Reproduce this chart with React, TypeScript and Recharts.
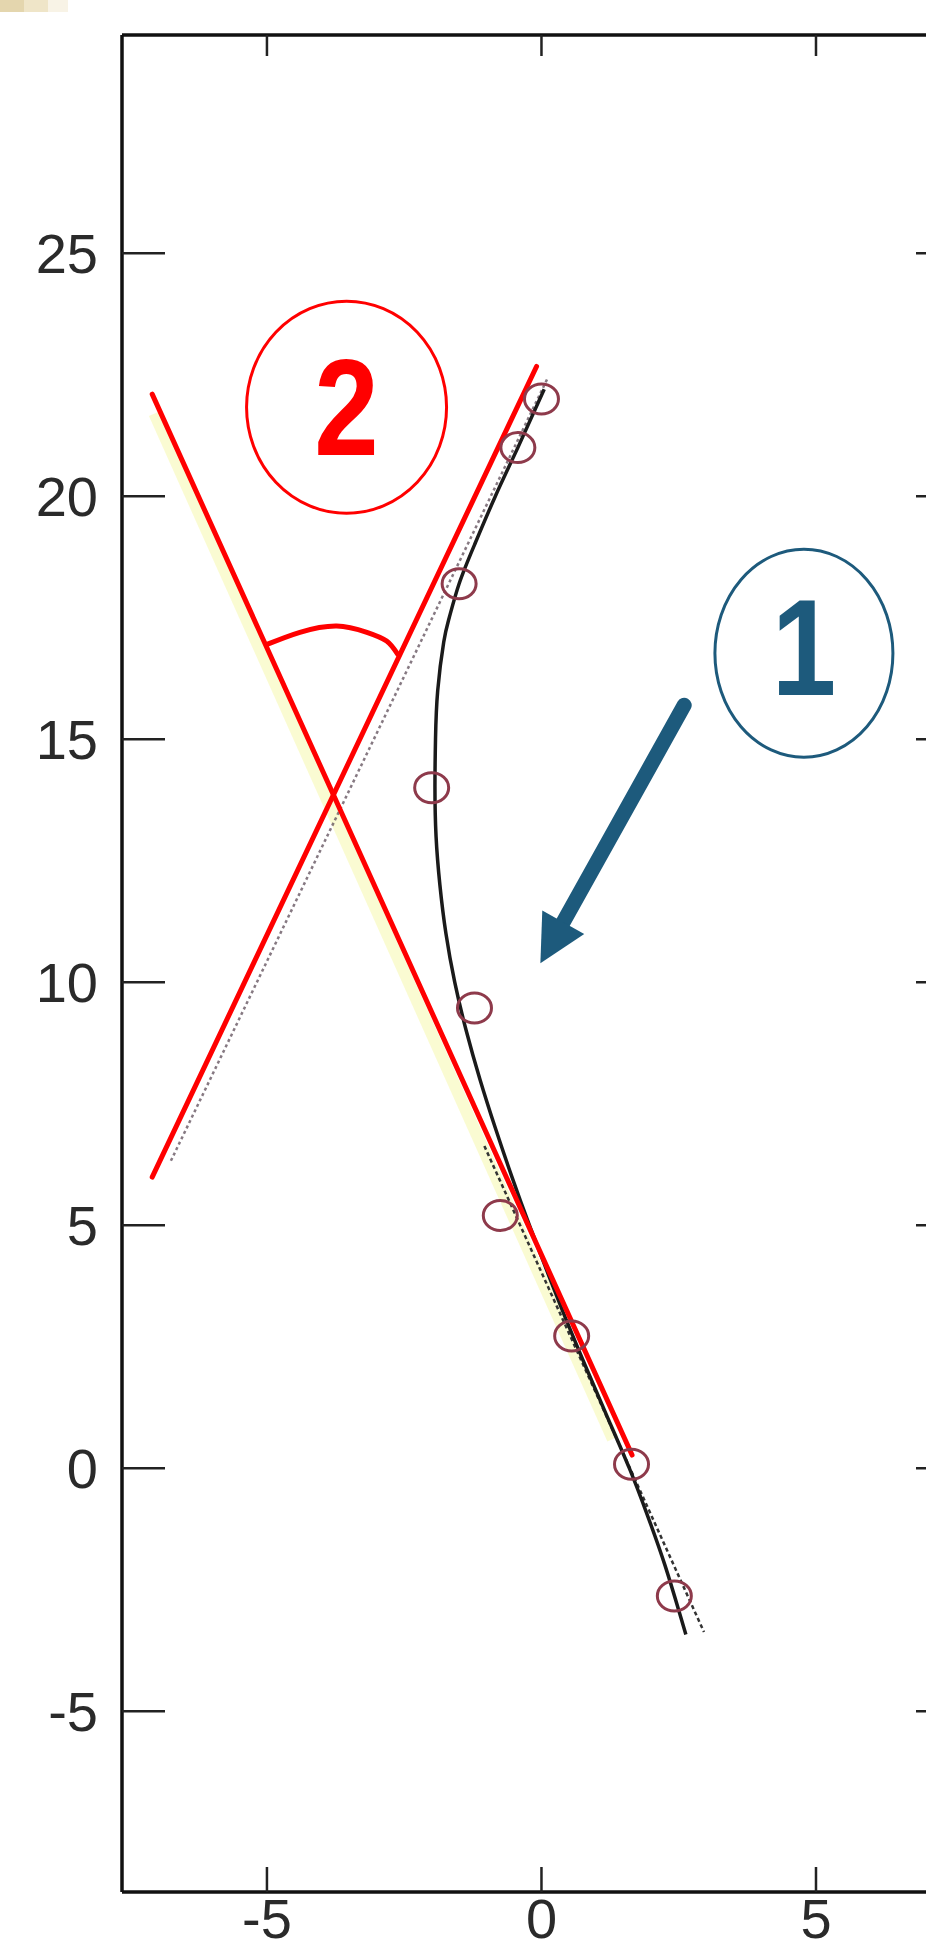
import React from 'react';
import { ComposedChart, Line, Scatter, XAxis, YAxis, ReferenceDot, ReferenceLine } from 'recharts';

const xTicks = [-5, 0, 5];
const yTicks = [-5, 0, 5, 10, 15, 20, 25];
const xDomain = [-7.64, 7.55];
const yDomain = [-8.72, 29.49];

// measured points (open circles)
const samples = [
  { x: 0.0, y: 22.0 },
  { x: -0.43, y: 21.0 },
  { x: -1.5, y: 18.2 },
  { x: -2.0, y: 14.0 },
  { x: -1.22, y: 9.47 },
  { x: -0.75, y: 5.2 },
  { x: 0.55, y: 2.72 },
  { x: 1.64, y: 0.08 },
  { x: 2.42, y: -2.63 },
];

// fitted branch, read from top to bottom
const fitCurve = [
  { x: 0.05, y: 22.2 },
  { x: -0.43, y: 21.0 },
  { x: -0.84, y: 20.0 },
  { x: -1.22, y: 19.0 },
  { x: -1.5, y: 18.2 },
  { x: -1.68, y: 17.5 },
  { x: -1.78, y: 17.0 },
  { x: -1.89, y: 16.0 },
  { x: -1.93, y: 15.0 },
  { x: -1.94, y: 14.0 },
  { x: -1.92, y: 13.0 },
  { x: -1.85, y: 12.0 },
  { x: -1.74, y: 11.0 },
  { x: -1.58, y: 10.0 },
  { x: -1.37, y: 9.0 },
  { x: -1.12, y: 8.0 },
  { x: -0.84, y: 7.0 },
  { x: -0.54, y: 6.0 },
  { x: -0.22, y: 5.0 },
  { x: 0.12, y: 4.0 },
  { x: 0.47, y: 3.0 },
  { x: 0.84, y: 2.0 },
  { x: 1.22, y: 1.0 },
  { x: 1.6, y: 0.0 },
  { x: 1.94, y: -1.0 },
  { x: 2.25, y: -2.0 },
  { x: 2.52, y: -3.0 },
  { x: 2.63, y: -3.42 },
];

const asymptoteA = [{ x: 0.1, y: 22.4 }, { x: -6.76, y: 6.3 }];
const asymptoteB = [{ x: -1.04, y: 6.63 }, { x: 2.96, y: -3.37 }];
const glowB = [{ x: -7.05, y: 21.7 }, { x: 1.3, y: 0.6 }];
const redLineA = [{ x: -7.09, y: 5.99 }, { x: -0.09, y: 22.67 }];
const redLineB = [{ x: -7.09, y: 22.1 }, { x: 1.65, y: 0.27 }];
const angleArc = [
  { x: -5.0, y: 16.95 },
  { x: -4.4, y: 17.2 },
  { x: -3.73, y: 17.33 },
  { x: -3.18, y: 17.2 },
  { x: -2.82, y: 17.02 },
  { x: -2.62, y: 16.75 },
];

const badgeTwo = { x: -3.55, y: 21.83, label: '2' };
const badgeOne = { x: 4.78, y: 16.77, label: '1' };
const arrowPath = [{ x: 2.6, y: 15.7 }, { x: -0.02, y: 10.39 }];

const RED = '#ff0000';
const BLUE = '#1d5a7c';
const FONT = '"Liberation Sans", Arial, sans-serif';

const SampleCircle = (p: any) => (
  <ellipse cx={p.cx} cy={p.cy} rx={17} ry={15} fill="none" stroke="#8e3a4b" strokeWidth={3} />
);

const makeBadge = (color: string, label: string, rx: number, ry: number, dx: number, dy: number) =>
  (p: any) => (
    <g>
      <ellipse cx={p.cx} cy={p.cy} rx={rx} ry={ry} fill="none" stroke={color} strokeWidth={3} />
      <text
        transform={`translate(${p.cx + dx},${p.cy + dy}) scale(0.84,1)`}
        textAnchor="middle"
        fontFamily={FONT}
        fontWeight="bold"
        fontSize={138}
        fill={color}
      >
        {label}
      </text>
    </g>
  );

const ArrowShape = (p: any) => {
  const { x1, y1, x2, y2 } = p;
  const len = Math.hypot(x2 - x1, y2 - y1);
  const ux = (x2 - x1) / len;
  const uy = (y2 - y1) / len;
  const bx = x2 - ux * 47;
  const by = y2 - uy * 47;
  return (
    <g>
      <line x1={x1} y1={y1} x2={bx + ux * 4} y2={by + uy * 4} stroke={BLUE} strokeWidth={15} strokeLinecap="round" />
      <polygon
        points={`${x2},${y2} ${bx + uy * 24},${by - ux * 24} ${bx - uy * 24},${by + ux * 24}`}
        fill={BLUE}
      />
    </g>
  );
};

const tickStyle = { fill: '#2a2a2a', fontFamily: FONT };
const blank = () => '';
const axisStroke = { stroke: '#111', strokeWidth: 3.5 };
const tickStroke = { stroke: '#222', strokeWidth: 2.5 };

export default function App() {
  return (
    <div style={{ position: 'absolute', left: 0, top: 0, width: 926, height: 1954, overflow: 'hidden', background: '#fff' }}>
      <div style={{ position: 'absolute', left: 0, top: 0, width: 68, height: 12, background: 'linear-gradient(90deg, #e4d6ae 0%, #e4d6ae 35%, #efe5c8 36%, #efe5c8 70%, #f8f3e6 71%)' }} />
      <ComposedChart width={1000} height={1954} margin={{ top: 0, right: 0, bottom: 0, left: 0 }}>
        <XAxis
          dataKey="x"
          type="number"
          domain={xDomain}
          allowDataOverflow
          ticks={xTicks}
          interval={0}
          height={62}
          tickSize={-25}
          tickMargin={31}
          tick={{ ...tickStyle, fontSize: 56 }}
          axisLine={axisStroke}
          tickLine={tickStroke}
        />
        <XAxis
          xAxisId="top"
          orientation="top"
          dataKey="x"
          type="number"
          domain={xDomain}
          allowDataOverflow
          ticks={xTicks}
          interval={0}
          height={35}
          tickSize={-21}
          tickFormatter={blank}
          axisLine={axisStroke}
          tickLine={tickStroke}
        />
        <YAxis
          dataKey="y"
          type="number"
          domain={yDomain}
          allowDataOverflow
          ticks={yTicks}
          interval={0}
          width={122}
          tickSize={-43}
          tickMargin={67}
          tick={{ ...tickStyle, fontSize: 56 }}
          axisLine={axisStroke}
          tickLine={tickStroke}
        />
        <YAxis
          yAxisId="right"
          orientation="right"
          dataKey="y"
          type="number"
          domain={yDomain}
          allowDataOverflow
          ticks={yTicks}
          interval={0}
          width={44}
          tickSize={-40}
          tickFormatter={blank}
          axisLine={axisStroke}
          tickLine={tickStroke}
        />

        <Line data={glowB} dataKey="y" type="linear" stroke="#f2f47e" strokeOpacity={0.35} strokeWidth={12} dot={false} activeDot={false} isAnimationActive={false} />
        <Line data={asymptoteA} dataKey="y" type="linear" stroke="#5e4c58" strokeOpacity={0.75} strokeWidth={2.5} strokeDasharray="3 3" dot={false} activeDot={false} isAnimationActive={false} />
        <Line data={asymptoteB} dataKey="y" type="linear" stroke="#333" strokeWidth={2.5} strokeDasharray="4 3" dot={false} activeDot={false} isAnimationActive={false} />
        <Line data={fitCurve} dataKey="y" type="natural" stroke="#1a1a1a" strokeWidth={3.5} dot={false} activeDot={false} isAnimationActive={false} />
        <Scatter data={samples} dataKey="y" shape={SampleCircle} isAnimationActive={false} />
        <Line data={redLineA} dataKey="y" type="linear" stroke={RED} strokeWidth={5} strokeLinecap="round" dot={false} activeDot={false} isAnimationActive={false} />
        <Line data={redLineB} dataKey="y" type="linear" stroke={RED} strokeWidth={5} strokeLinecap="round" dot={false} activeDot={false} isAnimationActive={false} />
        <Line data={angleArc} dataKey="y" type="natural" stroke={RED} strokeWidth={5} strokeLinecap="round" dot={false} activeDot={false} isAnimationActive={false} />

        <ReferenceDot x={badgeTwo.x} y={badgeTwo.y} shape={makeBadge(RED, badgeTwo.label, 100, 106, 0, 48)} />
        <ReferenceDot x={badgeOne.x} y={badgeOne.y} shape={makeBadge(BLUE, badgeOne.label, 89, 104, 0, 42)} />
        <ReferenceLine segment={arrowPath} shape={ArrowShape} />
      </ComposedChart>
    </div>
  );
}
